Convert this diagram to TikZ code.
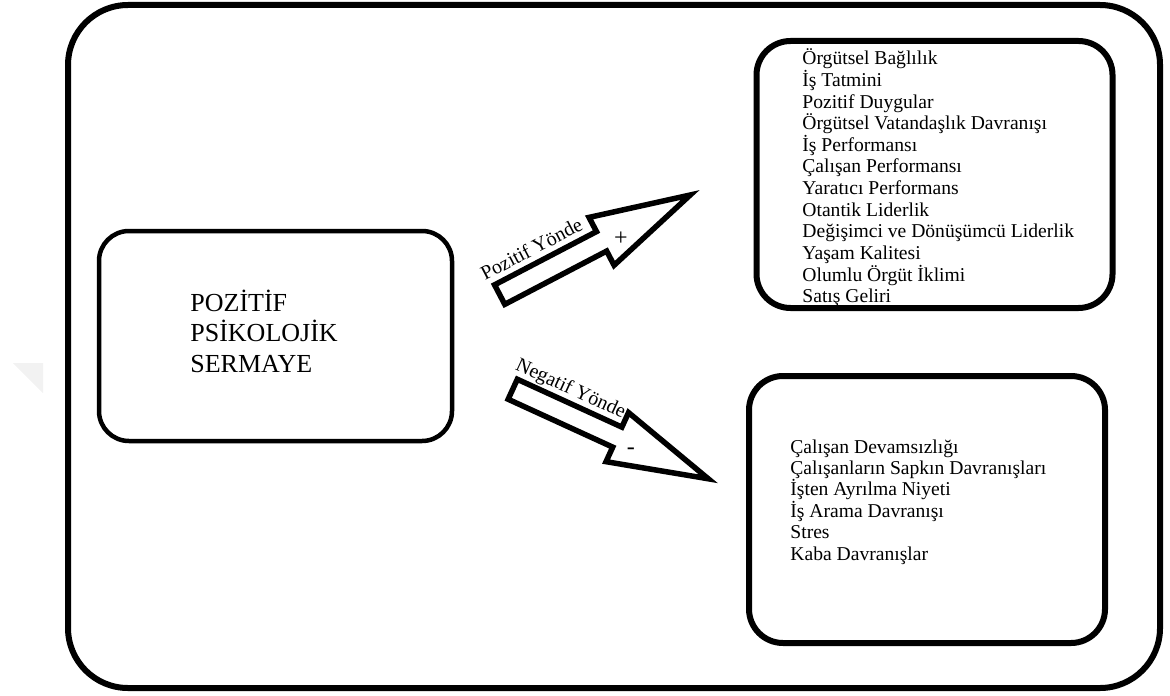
\documentclass[tikz,border=0pt]{standalone}
\usepackage{fontspec}
\setmainfont{Liberation Serif}
\newfontfamily\tnr{Liberation Serif}
\usetikzlibrary{positioning}

\tikzset{
    pics/bigarrow/.style 2 args={
        code={
            \draw[line width=2.75pt, line join=miter]
                (3,-11) -- (118,-11) -- (118,-27) -- (218,0) -- (118,27) -- (118,11) -- (3,11) -- cycle;
            \node[transform shape, anchor=base west, inner sep=0pt,
                  font=\tnr\fontsize{10}{11}\selectfont] (-lbl) at (-4,-19) {#1};
            \node[inner sep=0pt, font=\tnr\fontsize{12}{12}\selectfont] (-sgn) at (136,7) {#2};
        }
    }
}

\begin{document}
\begin{tikzpicture}[
    x=0.5pt, y=-0.5pt,
    frame/.style={draw, line width=3pt, rounded corners=30pt, inner sep=0pt,
        minimum width=546pt, minimum height=341.5pt},
    listbox/.style={draw, line width=3pt, rounded corners=17pt, inner sep=0pt,
        minimum width=178pt, minimum height=133.5pt},
    mainbox/.style={draw, line width=2.25pt, rounded corners=15pt, inner sep=0pt,
        minimum width=176.5pt, minimum height=105pt},
    item/.style={anchor=base west, inner sep=0pt, font=\tnr\fontsize{9.8}{10.8}\selectfont},
    headline/.style={anchor=base west, inner sep=0pt, font=\tnr\fontsize{13}{15}\selectfont}
]
\useasboundingbox (0,0) rectangle (1170,695);

% watermark corner
\fill[gray!10] (13,363) -- (43,363) -- (43,393) -- cycle;

% Boxes
\node[frame] (outer) at (614,346.5) {};
\node[mainbox] (psy) at (275.5,336) {};
\node[listbox] (pos) at (934.5,174.5) {};
\node[listbox] (neg) at (927,509.5) {};

% Main concept
\foreach \t [count=\i] in {POZİTİF, PSİKOLOJİK, SERMAYE}
    \node[headline] (psy\i) at (190,{311+30.5*(\i-1)}) {\t};

% Positive outcomes
\foreach \t [count=\i] in {Örgütsel Bağlılık, İş Tatmini, Pozitif Duygular,
    Örgütsel Vatandaşlık Davranışı, İş Performansı, Çalışan Performansı,
    Yaratıcı Performans, Otantik Liderlik, Değişimci ve Dönüşümcü Liderlik,
    Yaşam Kalitesi, Olumlu Örgüt İklimi, Satış Geliri}
    \node[item] (pos\i) at (802,{65+21.6*(\i-1)}) {\t};

% Negative outcomes
\foreach \t [count=\i] in {Çalışan Devamsızlığı, Çalışanların Sapkın Davranışları,
    İşten Ayrılma Niyeti, İş Arama Davranışı, Stres, Kaba Davranışlar}
    \node[item] (neg\i) at (790,{453+21.4*(\i-1)}) {\t};

% Direction arrows
\pic[rotate=27.6] (uparrow) at (497,296) {bigarrow={Pozitif Yönde}{+}};
\pic[rotate=-24.6] (downarrow) at (510,388) {bigarrow={Negatif Yönde}{-}};

\end{tikzpicture}
\end{document}
